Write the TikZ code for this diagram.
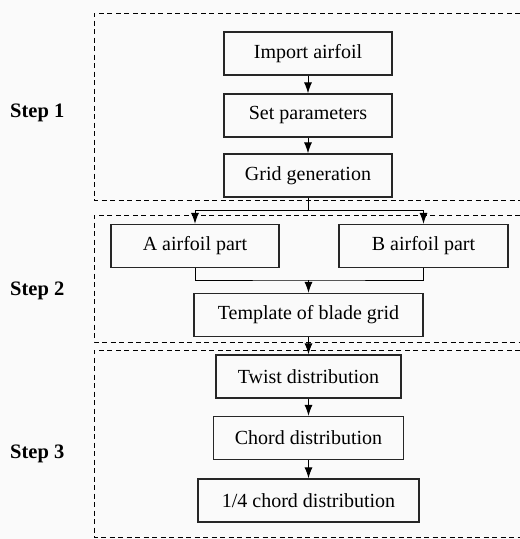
\documentclass[tikz,border=0pt]{standalone}
\usepackage{fontspec}
\setmainfont{Liberation Serif}
\usetikzlibrary{arrows.meta}
\begin{document}
\begin{tikzpicture}[x=1pt,y=-1pt,
    stepbox/.style={draw=black!85, line width=1.2pt, minimum height=43pt, inner sep=0pt,
      font=\fontsize{20}{24}\selectfont},
    steplabel/.style={anchor=west, inner sep=0pt, font=\fontsize{20.5}{24}\selectfont\bfseries},
    flow/.style={-{Latex[length=11pt,width=8pt]}, line width=1pt},
    frame/.style={line width=0.9pt, dash pattern=on 5pt off 3.5pt}]
  \useasboundingbox[fill=black!2] (0,0) rectangle (520,539);

  % Rahmen der drei Schritte
  \draw[frame] (520,13) -| (94,200) -- (520,200);
  \draw[frame] (520,215) -| (94,342) -- (520,342);
  \draw[frame] (520,350) -| (94,537.5) -- (520,537.5);

  \node[steplabel] (s1) at (10,113) {Step 1};
  \node[steplabel] (s2) at (10,291) {Step 2};
  \node[steplabel] (s3) at (10,454) {Step 3};

  % Schritt 1
  \node[stepbox, minimum width=168pt] (import) at (308,53.5) {Import airfoil};
  \node[stepbox, minimum width=168pt] (param) at (308,115.5) {Set parameters};
  \node[stepbox, minimum width=168pt] (grid) at (308,175.5) {Grid generation};

  % Schritt 2
  \node[stepbox, minimum width=168pt] (partA) at (195,246) {A airfoil part};
  \node[stepbox, minimum width=169pt] (partB) at (423.5,246) {B airfoil part};
  \node[stepbox, minimum width=229pt] (template) at (308.5,315) {Template of blade grid};
  \coordinate (join) at (308.5,280);

  % Schritt 3
  \node[stepbox, minimum width=185pt] (twist) at (308.5,376.5) {Twist distribution};
  \node[stepbox, minimum width=190pt] (chord) at (308.5,438) {Chord distribution};
  \node[stepbox, minimum width=221pt] (quarter) at (308.5,500.5) {1/4 chord distribution};

  % Verbindungen
  \draw[flow] (import) -- (param);
  \draw[flow] (param) -- (grid);
  \draw[flow] (grid.south) -- ++(0,13) -| (partA.north);
  \draw[flow] (grid.south) -- ++(0,13) -| (partB.north);
  \draw[line width=1pt] (partA.south) |- (join) -| (partB.south);
  \draw[flow] (join) -- (template.north);
  \draw[flow] (template) -- (twist);
  \draw[flow] (twist) -- (chord);
  \draw[flow] (chord) -- (quarter);
\end{tikzpicture}
\end{document}
